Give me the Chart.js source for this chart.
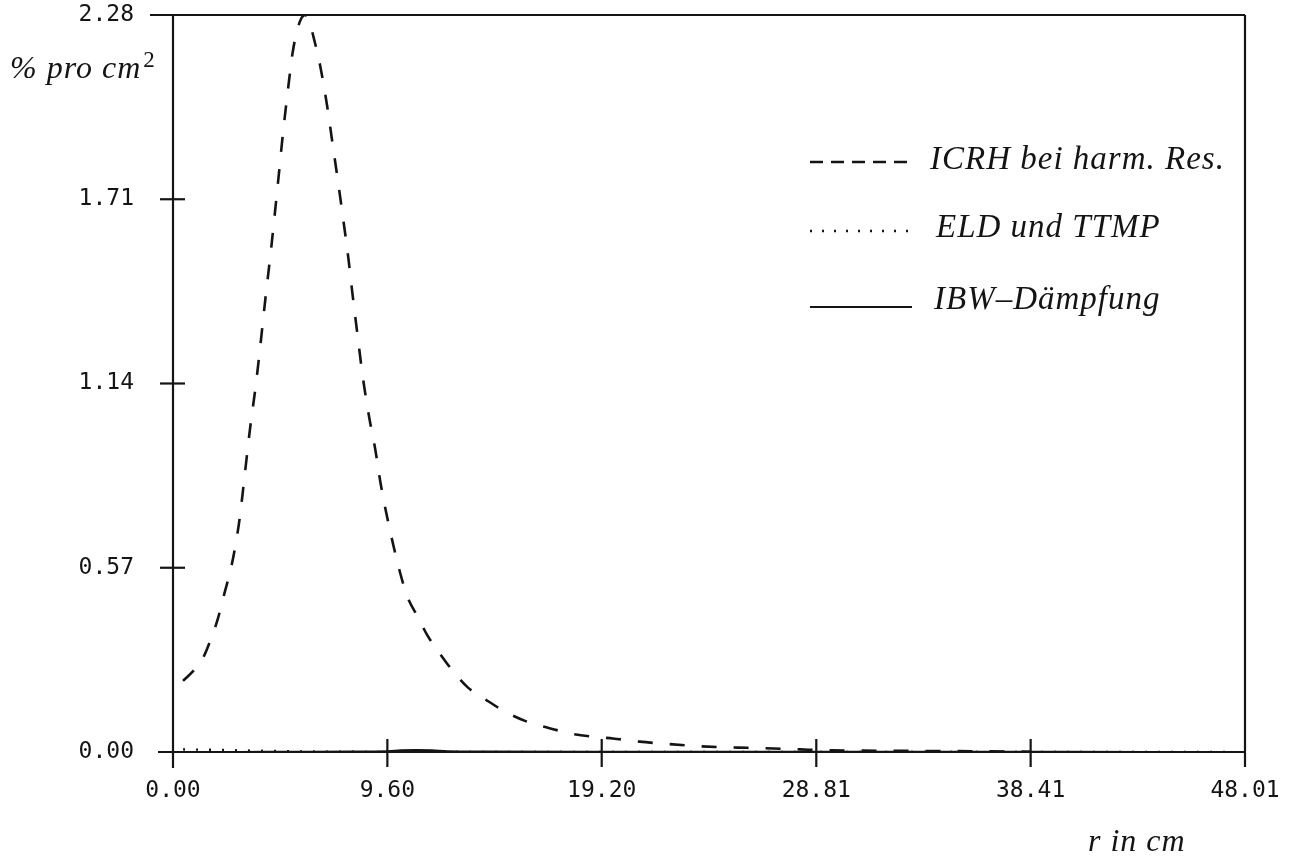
<!DOCTYPE html>
<html>
<head>
<meta charset="utf-8">
<script src="https://cdn.jsdelivr.net/npm/chart.js@4.4.1/dist/chart.umd.min.js"></script>
<style>
  html, body { margin: 0; padding: 0; background: #ffffff; }
  #wrap { width: 1293px; height: 858px; position: relative; }
</style>
</head>
<body>
<div id="wrap"><canvas id="c" width="1293" height="858"></canvas></div>
<script>
// Axis tick values
const xTickValues = [0, 9.60, 19.20, 28.81, 38.41, 48.01];
const yTickValues = [0, 0.57, 1.14, 1.71, 2.28];

// Series names
const seriesNames = ['ICRH bei harm. Res.', 'ELD und TTMP', 'IBW\u2013D\u00e4mpfung'];

// ICRH bei harmonischer Resonanz: radius r (cm) and power density (% pro cm^2)
const rICRH = [0.45, 0.9, 1.3, 1.7, 2.0, 2.3, 2.6, 2.8, 3.0, 3.2, 3.45, 3.7, 3.9, 4.15, 4.4, 4.7, 4.95, 5.15, 5.35, 5.55, 5.75, 5.91,
               6.1, 6.3, 6.6, 6.9, 7.15, 7.4, 7.6, 7.85, 8.05, 8.3, 8.5, 8.8, 9.05, 9.3, 9.55, 9.8, 10.15, 10.5, 10.95, 11.4,
               12.05, 12.6, 13.2, 14.05, 14.95, 15.85, 16.9, 17.9, 19.0, 19.7, 20.9, 22.1, 23.3, 24.5, 25.7, 26.9, 28.1,
               29.5, 31.5, 34.0, 36.5, 38.4];
const pICRH = [0.22, 0.25, 0.285, 0.35, 0.41, 0.49, 0.57, 0.64, 0.73, 0.85, 1.00, 1.13, 1.25, 1.41, 1.56, 1.76, 1.93, 2.05, 2.16, 2.23, 2.27, 2.28,
               2.26, 2.21, 2.12, 2.00, 1.88, 1.76, 1.66, 1.53, 1.41, 1.27, 1.16, 1.03, 0.94, 0.83, 0.74, 0.66, 0.56, 0.48, 0.42, 0.36,
               0.295, 0.245, 0.20, 0.16, 0.122, 0.094, 0.073, 0.056, 0.046, 0.042, 0.032, 0.025, 0.019, 0.015, 0.013, 0.011, 0.008,
               0.005, 0.004, 0.003, 0.002, 0.001];

// ELD und TTMP
const rELD = [0.45, 1.5, 3.0, 4.5, 6.0, 8.0, 10.0, 14.0, 20.0, 30.0, 40.0, 47.5];
const pELD = [0.008, 0.007, 0.005, 0.003, 0.0015, 0.0006, 0.0002, 0, 0, 0, 0, 0];

// IBW-Daempfung
const rIBW = [0.45, 3.0, 5.0, 8.0, 9.6, 10.2, 10.9, 11.6, 12.3, 14.0, 20.0, 30.0, 40.0, 47.5];
const pIBW = [0, 0, 0.0005, 0.001, 0.002, 0.005, 0.006, 0.005, 0.002, 0.001, 0.0005, 0.0003, 0.0001, 0];

const INK = '#141414';
const toPoints = (xs, ys) => xs.map((x, i) => ({ x: x, y: ys[i] }));

// Frame, crossing tick marks, axis captions and legend
const framePlugin = {
  id: 'frame',
  afterDraw(chart) {
    const { ctx, scales } = chart;
    const xs = scales.x, ys = scales.y;
    ctx.save();
    ctx.strokeStyle = INK;
    ctx.lineWidth = 2.2;
    ctx.lineCap = 'butt';
    ctx.setLineDash([]);
    const line = (x1, y1, x2, y2) => { ctx.beginPath(); ctx.moveTo(x1, y1); ctx.lineTo(x2, y2); ctx.stroke(); };

    const top = ys.getPixelForValue(yTickValues[yTickValues.length - 1]);
    const bot = ys.getPixelForValue(yTickValues[0]);
    const left = xs.getPixelForValue(xTickValues[0]);
    const right = xs.getPixelForValue(xTickValues[xTickValues.length - 1]);

    line(left - 23, top, right, top);          // top border
    line(left - 15, bot, right, bot);          // r axis
    line(left, top, left, bot + 16);           // y axis
    line(right, top, right, bot + 15);         // right border
    yTickValues.slice(1, -1).forEach(v => {
      const y = ys.getPixelForValue(v);
      line(left - 13, y, left + 12, y);
    });
    xTickValues.slice(1, -1).forEach(v => {
      const x = xs.getPixelForValue(v);
      line(x, bot - 13, x, bot + 15);
    });

    // axis captions
    ctx.fillStyle = INK;
    ctx.textBaseline = 'alphabetic';
    ctx.textAlign = 'left';
    try { ctx.letterSpacing = '1px'; } catch (e) {}
    ctx.font = 'italic 32px "Liberation Serif"';
    ctx.fillText('% pro cm', 10, 78);
    const w = ctx.measureText('% pro cm').width;
    ctx.font = '23px "Liberation Serif"';
    ctx.fillText('2', 10 + w + 2, 67);
    ctx.font = 'italic 32px "Liberation Serif"';
    ctx.fillText('r in cm', 1088, 851);

    // legend
    const legendRows = [
      { y: 162, ty: 169, tx: 930 },
      { y: 231, ty: 237, tx: 936 },
      { y: 307, ty: 309, tx: 934 }
    ];
    chart.data.datasets.forEach((ds, i) => {
      const row = legendRows[i];
      ctx.strokeStyle = ds.borderColor;
      ctx.lineWidth = ds.borderWidth;
      ctx.lineCap = 'butt';
      ctx.setLineDash(ds.legendDash || []);
      line(810, row.y, 912, row.y);
      ctx.setLineDash([]);
      ctx.fillStyle = INK;
      ctx.font = 'italic 33px "Liberation Serif"';
      ctx.fillText(ds.label, row.tx, row.ty);
    });
    ctx.restore();
  }
};

const tickFont = { family: '"DejaVu Sans Mono", monospace', size: 23 };

// keep the plot area fixed: no extra label overhang padding
const noPad = s => { s.paddingTop = 0; s.paddingBottom = 0; s.paddingLeft = 0; s.paddingRight = 0; };

new Chart(document.getElementById('c'), {
  type: 'line',
  data: {
    datasets: [
      {
        label: seriesNames[0],
        data: toPoints(rICRH, pICRH),
        borderColor: INK, borderWidth: 2.6,
        borderDash: [15, 17], legendDash: [13, 8],
        pointRadius: 0, cubicInterpolationMode: 'monotone', fill: false
      },
      {
        label: seriesNames[1],
        data: toPoints(rELD, pELD),
        borderColor: INK, borderWidth: 2.4,
        borderDash: [2, 11], legendDash: [2, 10],
        pointRadius: 0, cubicInterpolationMode: 'monotone', fill: false
      },
      {
        label: seriesNames[2],
        data: toPoints(rIBW, pIBW),
        borderColor: INK, borderWidth: 2.2,
        pointRadius: 0, cubicInterpolationMode: 'monotone', fill: false
      }
    ]
  },
  options: {
    responsive: false,
    animation: false,
    devicePixelRatio: 1,
    layout: { padding: { left: 0, top: 15, right: 48, bottom: 0 } },
    plugins: { legend: { display: false }, tooltip: { enabled: false } },
    scales: {
      x: {
        type: 'linear',
        min: xTickValues[0],
        max: xTickValues[xTickValues.length - 1],
        afterBuildTicks: s => { s.ticks = xTickValues.map(v => ({ value: v })); },
        afterFit: s => { s.height = 106; noPad(s); },
        grid: { display: false, drawTicks: false },
        border: { display: false },
        ticks: {
          autoSkip: false, maxRotation: 0, minRotation: 0,
          padding: 25, color: INK, font: tickFont,
          callback: v => Number(v).toFixed(2)
        }
      },
      y: {
        type: 'linear',
        min: yTickValues[0],
        max: yTickValues[yTickValues.length - 1],
        afterBuildTicks: s => { s.ticks = yTickValues.map(v => ({ value: v })); },
        afterFit: s => { s.width = 173; noPad(s); },
        grid: { display: false, drawTicks: false },
        border: { display: false },
        ticks: {
          autoSkip: false, padding: 39, color: INK, font: tickFont,
          callback: v => Number(v).toFixed(2)
        }
      }
    }
  },
  plugins: [framePlugin]
});
</script>
</body>
</html>
